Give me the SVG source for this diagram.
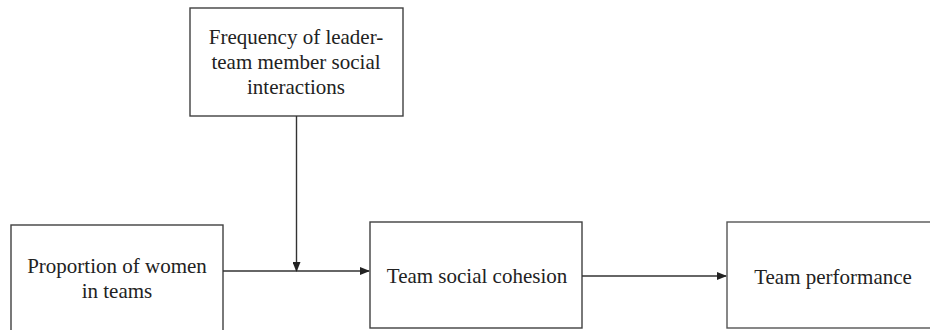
<svg xmlns="http://www.w3.org/2000/svg" width="930" height="330" viewBox="0 0 930 330">
<style>
.box{fill:#fff;stroke:#404040;stroke-width:1.4}
.t{font-family:"Liberation Serif","Times New Roman",serif;font-size:21px;fill:#222;text-anchor:middle}
.c{stroke:#333;stroke-width:1.4;fill:none}
</style>
<defs>
<marker id="ah" markerWidth="10" markerHeight="8" refX="9" refY="4" orient="auto" markerUnits="userSpaceOnUse">
<path d="M0,0 L10,4 L0,8 Z" fill="#222"/>
</marker>
</defs>
<rect width="930" height="330" fill="#fff"/>
<g id="node-frequency">
<rect class="box" x="190" y="8" width="213" height="108"/>
<text class="t" x="296" y="44">Frequency of leader-</text>
<text class="t" x="296" y="69">team member social</text>
<text class="t" x="296" y="94">interactions</text>
</g>
<g id="node-proportion">
<rect class="box" x="11" y="225" width="212" height="120"/>
<text class="t" x="117" y="273">Proportion of women</text>
<text class="t" x="117" y="298">in teams</text>
</g>
<g id="node-cohesion">
<rect class="box" x="370" y="222" width="212" height="106"/>
<text class="t" x="477" y="283">Team social cohesion</text>
</g>
<g id="node-performance">
<rect class="box" x="727" y="222" width="215" height="106" style="stroke:#555"/>
<text class="t" x="833" y="284">Team performance</text>
</g>
<g id="connectors">
<line class="c" x1="223" y1="271" x2="369" y2="271" marker-end="url(#ah)"/>
<line class="c" x1="296.5" y1="116" x2="296.5" y2="271" marker-end="url(#ah)"/>
<line class="c" x1="582" y1="276" x2="726" y2="276" marker-end="url(#ah)"/>
</g>
</svg>
